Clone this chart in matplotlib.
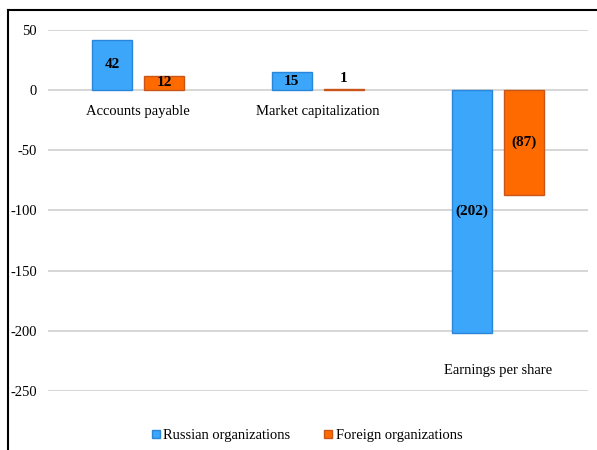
import numpy as np
import matplotlib
matplotlib.use("Agg")
import matplotlib.pyplot as plt
from matplotlib.lines import Line2D

categories = ["Accounts payable", "Market capitalization", "Earnings per share"]
russian = [42, 15, -202]
foreign = [12, 1, -87]
series_names = ["Russian organizations", "Foreign organizations"]
yticks = [50, 0, -50, -100, -150, -200, -250]

plt.rcParams['font.family'] = ['Liberation Serif', 'DejaVu Serif']

blue = '#3BA6FA'
blue_edge = '#2A86D8'
orange = '#FF6A00'
orange_edge = '#C8561A'

fig = plt.figure(figsize=(5.97, 4.5), dpi=100)
ax = fig.add_axes([48 / 597, (450 - 391) / 450, 540 / 597, 361 / 450])

x = np.arange(len(categories))
w = 0.22
off = 0.145
ax.bar(x - off, russian, w, color=blue, edgecolor=blue_edge, linewidth=1, zorder=3)
ax.bar(x + off, foreign, w, color=orange, edgecolor=orange_edge, linewidth=1, zorder=3)


def fmt(v):
    return f"({abs(v)})" if v < 0 else f"{v}"


for i in range(len(categories)):
    for vals, dx in ((russian, -off), (foreign, off)):
        v = vals[i]
        if abs(v) < 5:
            ax.text(x[i] + dx, v + 9, fmt(v), ha='center', va='center',
                    fontsize=11, fontweight='bold', zorder=4)
        else:
            ax.text(x[i] + dx, v / 2, fmt(v), ha='center', va='center',
                    fontsize=11, fontweight='bold', zorder=4)
    low = min(russian[i], foreign[i], 0)
    gap = 18 if low == 0 else 31
    ax.text(x[i], low - gap, categories[i], ha='center', va='center', fontsize=10.5)

ax.set_xlim(-0.5, len(categories) - 0.5)
ax.set_ylim(-250, 50)
ax.set_yticks(yticks)
ax.set_yticklabels([str(t) for t in yticks], fontsize=10.5)
ax.set_xticks([])
ax.tick_params(axis='y', length=0, pad=8)
ax.grid(axis='y', color='#CFCFCF', linewidth=1.2, zorder=0)
for s in ax.spines.values():
    s.set_visible(False)

handles = [Line2D([], [], marker='s', linestyle='', markersize=6,
                  markerfacecolor=blue, markeredgecolor=blue_edge),
           Line2D([], [], marker='s', linestyle='', markersize=6,
                  markerfacecolor=orange, markeredgecolor=orange_edge)]
fig.legend(handles, series_names, loc='center', bbox_to_anchor=(0.513, 15 / 450),
           ncol=2, frameon=False, fontsize=10.5, handletextpad=0.1, columnspacing=2.2,
           handlelength=0.8)

# outer frame lines (top and left)
fig.add_artist(Line2D([8 / 597, 1], [1 - 10 / 450, 1 - 10 / 450], color='black', linewidth=1.5,
                      transform=fig.transFigure))
fig.add_artist(Line2D([8 / 597, 8 / 597], [0, 1 - 10 / 450], color='black', linewidth=1.5,
                      transform=fig.transFigure))

fig.savefig("out.png", dpi=100)
